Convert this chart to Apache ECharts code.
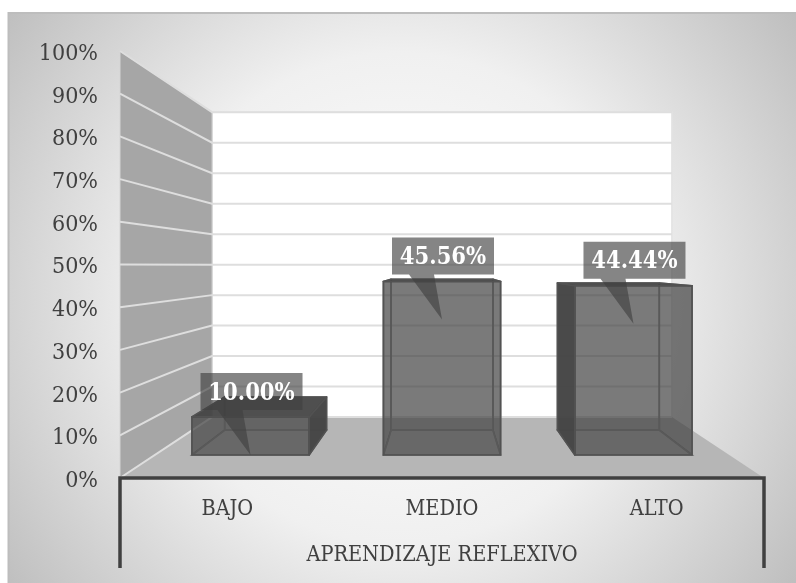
<!DOCTYPE html>
<html>
<head>
<meta charset="utf-8">
<style>html,body{margin:0;padding:0;background:#fff}#c{width:796px;height:583px}</style>
<script src="https://cdn.jsdelivr.net/npm/echarts@6/dist/echarts.min.js"></script>
</head>
<body>
<div id="c"></div>
<script>
const categories = ['BAJO', 'MEDIO', 'ALTO'];
const values = [10.00, 45.56, 44.44];
const yTicks = [0, 10, 20, 30, 40, 50, 60, 70, 80, 90, 100];
const axisTitle = 'APRENDIZAJE REFLEXIVO';

const FONT = '"DejaVu Serif Condensed", "DejaVu Serif", serif';
const VP = [442, 265];           // vanishing point of the floor and walls
const K_WALL = 0.714, K_FRONT = 0.892, K_BACK = 0.775;  // depth factors
const project = (p, k) => [VP[0] + k * (p[0] - VP[0]), VP[1] + k * (p[1] - VP[1])];

const chart = echarts.init(document.getElementById('c'), null, {renderer: 'canvas'});

function renderWalls(params, api) {
  const g = params.coordSys;
  const tl = [g.x, g.y], bl = [g.x, g.y + g.height], br = [g.x + g.width, g.y + g.height], tr = [g.x + g.width, g.y];
  const btl = project(tl, K_WALL), bbl = project(bl, K_WALL), bbr = project(br, K_WALL), btr = project(tr, K_WALL);
  return {type: 'group', children: [
    {type: 'polygon', shape: {points: [btl, btr, bbr, bbl]}, style: {fill: '#ffffff', stroke: '#e2e2e2', lineWidth: 1.5}},
    {type: 'polygon', shape: {points: [tl, btl, bbl, bl]}, style: {fill: '#a6a6a6', stroke: '#d4d4d4', lineWidth: 1}},
    {type: 'polygon', shape: {points: [bl, bbl, bbr, br]}, style: {fill: '#b6b6b6'}}
  ]};
}

function renderGridline(params, api) {
  const g = params.coordSys;
  const y = api.coord([0, api.value(0)])[1];
  const a = [g.x, y], b = project(a, K_WALL), c = project([g.x + g.width, y], K_WALL);
  return {type: 'polyline', shape: {points: [a, b, c]},
    style: {fill: 'none', stroke: '#dedede', lineWidth: 2}};
}

function renderBar(params, api) {
  const i = api.value(0), v = api.value(1);
  const top = api.coord([i, v]), base = api.coord([i, 0]);
  const hw = 0.306 * api.size([1, 0])[0];
  const P = (sx, p, k) => project([p[0] + sx * hw, p[1]], k);
  const fbl = P(-1, base, K_FRONT), fbr = P(1, base, K_FRONT), ftl = P(-1, top, K_FRONT), ftr = P(1, top, K_FRONT);
  const bbl = P(-1, base, K_BACK), bbr = P(1, base, K_BACK), btl = P(-1, top, K_BACK), btr = P(1, top, K_BACK);
  const EDGE = '#525252', INNER = '#6e6e6e', LW = 1.6;
  const hidden = {fill: 'rgba(64,64,64,0.45)', stroke: INNER, lineWidth: LW, lineJoin: 'round'};
  const shown = {fill: 'rgba(66,66,66,0.92)', stroke: EDGE, lineWidth: LW, lineJoin: 'round'};
  const leftVisible = btl[0] < ftl[0] - 12, rightVisible = btr[0] > ftr[0] + 12;
  const face = (pts, st) => ({type: 'polygon', shape: {points: pts}, style: st});
  return {type: 'group', children: [
    face([btl, btr, bbr, bbl], {fill: 'rgba(64,64,64,0.45)', stroke: INNER, lineWidth: LW}),
    face([bbl, bbr, fbr, fbl], {fill: 'rgba(64,64,64,0.38)', stroke: INNER, lineWidth: LW}),
    face([btl, ftl, fbl, bbl], leftVisible ? shown : hidden),
    face([btr, ftr, fbr, bbr], rightVisible ? shown : hidden),
    face([btl, btr, ftr, ftl], Object.assign({}, shown, {fill: 'rgba(66,66,66,0.88)'})),
    face([ftl, ftr, fbr, fbl], {fill: 'rgba(64,64,64,0.45)', stroke: EDGE, lineWidth: LW})
  ]};
}

function renderCallout(params, api) {
  const i = api.value(0), v = api.value(1);
  const top = project(api.coord([i, v]), K_FRONT), c = project(api.coord([i, 0]), K_FRONT);
  const tip = [c[0], top[1] + 38];
  const L = tip[0] - 50, R = tip[0] + 52, T = tip[1] - 82, B = tip[1] - 45;
  return {type: 'group', children: [
    {type: 'polygon', shape: {points: [[L, T], [R, T], [R, B], [tip[0] - 8, B], tip, [tip[0] - 33, B], [L, B]]},
      style: {fill: 'rgba(64,64,64,0.64)'}},
    {type: 'text', style: {text: v.toFixed(2) + '%', x: (L + R) / 2, y: (T + B) / 2 + 2, align: 'center', verticalAlign: 'middle',
      fill: '#ffffff', font: 'bold 23.5px ' + FONT}}
  ]};
}

function renderAxisFrame(params, api) {
  const g = params.coordSys, b = g.y + g.height, ST = {stroke: '#404040', lineWidth: 3.5, fill: 'none'};
  return {type: 'polyline', shape: {points: [[g.x, 568], [g.x, b], [g.x + g.width, b], [g.x + g.width, 568]]}, style: ST};
}

chart.setOption({
  animation: false,
  backgroundColor: 'transparent',
  graphic: [{
    type: 'rect', z: -10, silent: true,
    shape: {x: 8.5, y: 13, width: 800, height: 600},
    style: {
      fill: {type: 'radial', x: 400, y: 298, r: 490, global: true,
        colorStops: [{offset: 0, color: '#ffffff'}, {offset: 0.5, color: '#f0f0f0'}, {offset: 1, color: '#bebebe'}]},
      stroke: '#bdbdbd', lineWidth: 2
    }
  }],
  grid: {left: 120, top: 51, width: 644, height: 427, containLabel: false},
  xAxis: {
    type: 'category', data: categories,
    axisLine: {show: false}, axisTick: {show: false},
    axisLabel: {color: '#404040', fontFamily: FONT, fontSize: 21.5, margin: 20},
    name: axisTitle, nameLocation: 'middle', nameGap: 66,
    nameTextStyle: {color: '#404040', fontFamily: FONT, fontSize: 21.5}
  },
  yAxis: {
    type: 'value', min: 0, max: 100, interval: 10,
    axisLine: {show: false}, axisTick: {show: false}, splitLine: {show: false},
    axisLabel: {color: '#404040', fontFamily: FONT, fontSize: 23, margin: 22, formatter: '{value}%', verticalAlign: 'top', lineHeight: 6}
  },
  series: [
    {type: 'custom', name: 'walls', z: 1, silent: true, clip: false, data: [[0]], renderItem: renderWalls},
    {type: 'custom', name: 'gridlines', z: 2, silent: true, clip: false, coordinateSystem: 'cartesian2d',
      encode: {y: 0}, data: yTicks.map(t => [t]), renderItem: renderGridline},
    {type: 'custom', name: 'bars', z: 3, silent: true, clip: false, encode: {x: 0, y: 1},
      data: values.map((v, i) => [i, v]), renderItem: renderBar},
    {type: 'custom', name: 'frame', z: 4, silent: true, clip: false, data: [[0]], renderItem: renderAxisFrame},
    {type: 'custom', name: 'labels', z: 5, silent: true, clip: false, encode: {x: 0, y: 1},
      data: values.map((v, i) => [i, v]), renderItem: renderCallout}
  ]
});
</script>
</body>
</html>
